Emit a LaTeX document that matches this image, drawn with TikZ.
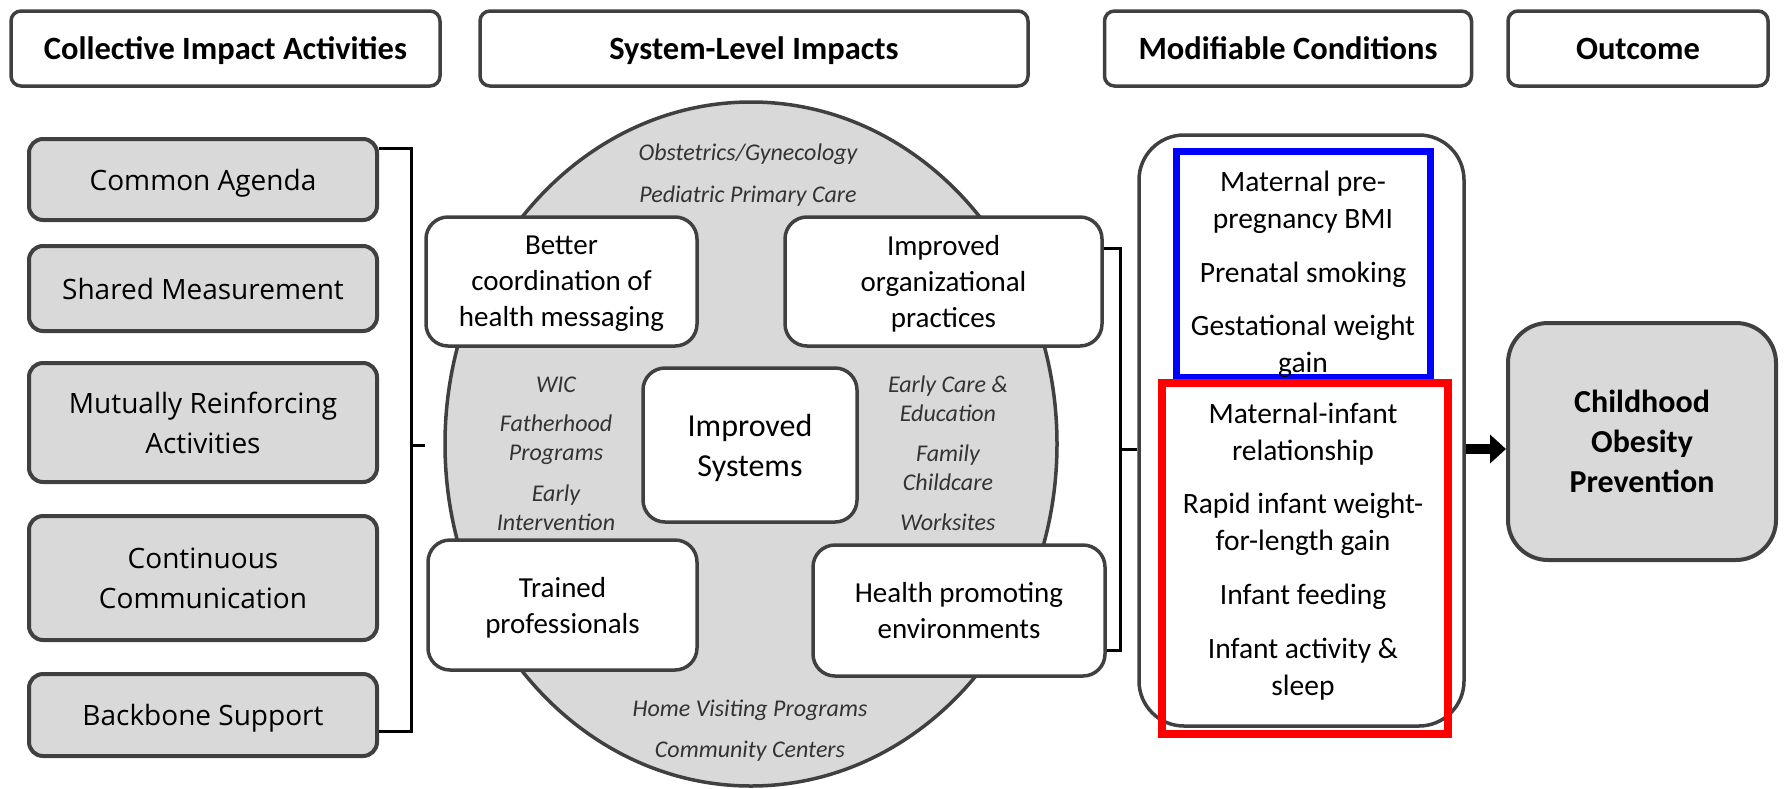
\documentclass[tikz,border=0pt]{standalone}
\usepackage{fontspec}
\setmainfont{Carlito}
\newfontfamily\actfont{Open Sans}
\usetikzlibrary{arrows.meta}
\definecolor{edgegray}{HTML}{404040}
\definecolor{fillgray}{HTML}{D9D9D9}
\definecolor{settinggray}{HTML}{333333}
\definecolor{frameblue}{HTML}{0000FF}
\definecolor{framered}{HTML}{FF0000}

\begin{document}
\begin{tikzpicture}[x=1pt,y=-1pt,
	head/.style = {rectangle, rounded corners=10, draw=edgegray, line width=3.5, fill=white, inner sep=0pt,
		minimum height=75, text depth=0pt, font=\bfseries\fontsize{32.5}{38}\selectfont},
	activity/.style = {rectangle, rounded corners=14, draw=edgegray, line width=4, fill=fillgray, inner sep=0pt,
		minimum width=348, align=center, text depth=0pt, font=\actfont\fontsize{28}{40}\selectfont},
	impact/.style = {rectangle, rounded corners=22, draw=edgegray, line width=3.5, fill=white, inner sep=0pt,
		align=center, text depth=0pt, font=\fontsize{29}{36}\selectfont},
	setting/.style = {align=center, inner sep=0pt, text=settinggray, text depth=0pt,
		font=\itshape\fontsize{24}{29}\selectfont},
	frame/.style = {rectangle, inner sep=0pt, fill=none},
	cond/.style = {align=center, inner sep=0pt, text depth=0pt, font=\fontsize{29.5}{37}\selectfont},
	bracket/.style = {draw=black, line width=3}]

	\useasboundingbox (0,0) rectangle (1791,788);

	% column heads
	\node[head, minimum width=429] (acthead) at (225.5,48.5) {Collective Impact Activities};
	\node[head, minimum width=548] (syshead) at (754,48.5) {System-Level Impacts};
	\node[head, minimum width=367] (condhead) at (1288,48.5) {Modifiable Conditions};
	\node[head, minimum width=260] (outhead) at (1638,48.5) {Outcome};

	% collective impact activities
	\node[activity, minimum height=81] (agenda) at (203,179.5) {Common Agenda};
	\node[activity, minimum height=85] (measure) at (203,288.5) {Shared Measurement};
	\node[activity, minimum height=119] (reinforce) at (203,422.5) {Mutually Reinforcing\\Activities};
	\node[activity, minimum height=124] (commun) at (203,578) {Continuous\\Communication};
	\node[activity, minimum height=82] (backbone) at (203,715) {Backbone Support};

	\coordinate (actend) at (425,445);
	\draw[bracket] (agenda.east |- 0,148) -- (411,148) -- (411,731) -- (backbone.east |- 0,731);
	\draw[bracket] (411,445) -- (actend);

	% system level impacts
	\draw[fill=fillgray, draw=edgegray, line width=3.5] (751,444) ellipse [x radius=306, y radius=342];

	\node[setting] (obgyn) at (748,152) {Obstetrics/Gynecology};
	\node[setting] (pediatric) at (748,194) {Pediatric Primary Care};
	\node[setting] (wic) at (556,385) {WIC};
	\node[setting] (father) at (556,438) {Fatherhood\\Programs};
	\node[setting] (earlyint) at (556,507.5) {Early\\Intervention};
	\node[setting] (earlycare) at (948,398.5) {Early Care \&\\Education};
	\node[setting] (childcare) at (948,467.5) {Family\\Childcare};
	\node[setting] (worksites) at (948,522) {Worksites};
	\node[setting] (homevisit) at (750,708) {Home Visiting Programs};
	\node[setting] (community) at (750,749) {Community Centers};

	\node[impact, minimum width=271, minimum height=129] (messaging) at (561.5,281.5) {Better\\coordination of\\health messaging};
	\node[impact, minimum width=317, minimum height=129] (orgpract) at (943.5,281.5) {Improved\\organizational\\practices};
	\node[impact, minimum width=214, minimum height=154,
		font=\fontsize{32}{40}\selectfont] (systems) at (750,445) {Improved\\Systems};
	\node[impact, minimum width=269, minimum height=130] (trained) at (562.5,605) {Trained\\professionals};
	\node[impact, minimum width=292, minimum height=131] (healthenv) at (959,610.5) {Health promoting\\environments};

	% modifiable conditions
	\node[rectangle, rounded corners=45, draw=edgegray, line width=3.5, fill=white,
		minimum width=325, minimum height=591, inner sep=0pt] (condbox) at (1301.5,430.5) {};
	\node[frame, draw=frameblue, line width=7, minimum width=254, minimum height=226] (prenatal) at (1303,264) {};
	\node[frame, draw=framered, line width=8, minimum width=286, minimum height=351] (infancy) at (1305,558.5) {};

	\node[cond] (bmi) at (1303,200) {Maternal pre-\\pregnancy BMI};
	\node[cond] (smoking) at (1303,272) {Prenatal smoking};
	\node[cond] (gwg) at (1303,343.5) {Gestational weight\\gain};
	\node[cond] (relation) at (1303,431.5) {Maternal-infant\\relationship};
	\node[cond] (rapid) at (1303,521.5) {Rapid infant weight-\\for-length gain};
	\node[cond] (feeding) at (1303,594) {Infant feeding};
	\node[cond] (sleep) at (1303,666.5) {Infant activity \&\\sleep};

	\draw[bracket] (orgpract.east |- 0,248) -- (1120,248) -- (1120,650) -- (healthenv.east |- 0,650);
	\draw[bracket] (1120,449) -- (condbox.west |- 0,449);

	% outcome
	\node[rectangle, rounded corners=40, draw=edgegray, line width=4, fill=fillgray, inner sep=0pt,
		minimum width=268, minimum height=237, align=center,
		font=\bfseries\fontsize{32}{40}\selectfont] (obesity) at (1642,441.5) {Childhood\\Obesity\\Prevention};

	\draw[line width=10, -{Triangle[length=16, width=28]}] (condbox.east |- 0,449) -- (obesity.west |- 0,449);
\end{tikzpicture}
\end{document}
